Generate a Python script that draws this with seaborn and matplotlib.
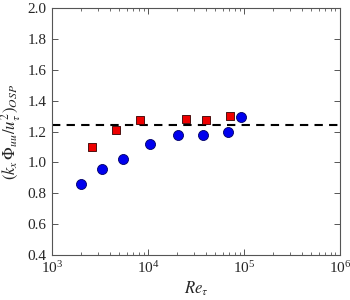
import matplotlib
matplotlib.use("Agg")
import matplotlib.pyplot as plt
import seaborn as sns
import pandas as pd
import numpy as np
from matplotlib.ticker import LogLocator, MultipleLocator, FixedLocator

sns.set_theme(style="ticks")
plt.rcParams['font.family'] = ['Liberation Serif', 'DejaVu Serif']
plt.rcParams['mathtext.fontset'] = 'stix'

re_circle = [2000, 3340, 5500, 10500, 20400, 37400, 68000, 93800]
val_circle = [0.858, 0.959, 1.019, 1.121, 1.179, 1.179, 1.200, 1.292]
re_square = [2630, 4680, 8260, 24900, 39800, 71900]
val_square = [1.101, 1.213, 1.277, 1.279, 1.275, 1.303]
ref_level = 1.243

df_c = pd.DataFrame({"Re": re_circle, "val": val_circle})
df_s = pd.DataFrame({"Re": re_square, "val": val_square})

fig = plt.figure(figsize=(3.5, 3.0), dpi=100)
ax = fig.add_axes([0.149, 0.15, 0.822, 0.823])

sns.scatterplot(data=df_c, x="Re", y="val", ax=ax, marker="o", s=52,
                color="#0000ee", edgecolor="#000066", linewidth=0.6, zorder=3)
sns.scatterplot(data=df_s, x="Re", y="val", ax=ax, marker="s", s=34,
                color="#ee0000", edgecolor="#330000", linewidth=0.6, zorder=3)
ax.axhline(ref_level, color="black", linestyle=(0, (4, 3)), linewidth=1.5, zorder=2)

ax.set_xscale("log")
ax.set_xlim(1e3, 1e6)
ax.set_ylim(0.4, 2.0)
ax.yaxis.set_major_locator(MultipleLocator(0.2))
ax.yaxis.set_major_formatter(matplotlib.ticker.FormatStrFormatter('%.1f'))
ax.xaxis.set_major_locator(FixedLocator([1e3, 1e4, 1e5, 1e6]))
ax.xaxis.set_minor_locator(LogLocator(base=10, subs=np.arange(2, 10), numticks=20))
ax.xaxis.set_minor_formatter(matplotlib.ticker.NullFormatter())

ax.tick_params(which="both", direction="in", top=True, right=True,
               labelsize=11, color="#555555")
ax.tick_params(which="major", length=4, width=0.7, pad=4)
ax.tick_params(which="minor", length=2, width=0.6)
for sp in ax.spines.values():
    sp.set_color("#555555")
    sp.set_linewidth(0.8)

ax.set_xlabel(r"$Re_{\tau}$", fontsize=12, labelpad=2)
ax.set_ylabel(r"$(k_x\,\mathit{\Phi}_{uu}/u_{\tau}^{2})_{OSP}$", fontsize=12, labelpad=3)

fig.savefig("out.png", dpi=100)
